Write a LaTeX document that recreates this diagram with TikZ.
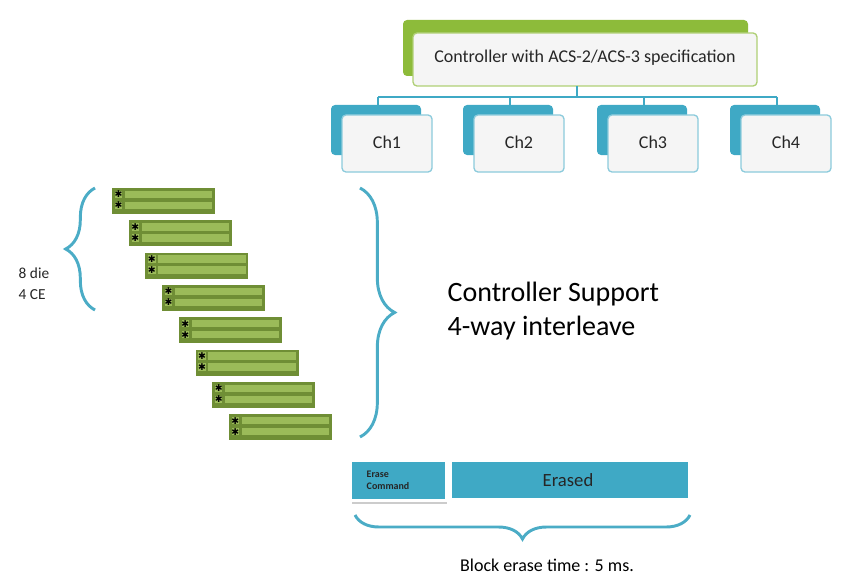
\documentclass[tikz,border=0pt]{standalone}
\usepackage{fontspec}
\setmainfont{Carlito}
\newfontfamily\symfont{DejaVu Sans}
\usetikzlibrary{decorations.pathreplacing,calc}
\definecolor{cblue}{HTML}{3FA9C5}
\definecolor{cgreen}{HTML}{8DBB3A}
\definecolor{dgreen}{HTML}{6F8E35}
\definecolor{lgreen}{HTML}{9BBB59}
\definecolor{brace}{HTML}{4BACC6}
\begin{document}
\begin{tikzpicture}[x=0.75pt,y=-0.75pt,
  back/.style={rounded corners=3pt},
  front/.style={rounded corners=3pt,fill=gray!8,line width=1pt},
  chtxt/.style={font=\fontsize{13.5}{15}\selectfont,text=black!85},
  conn/.style={draw=cblue,line width=2pt},
  br/.style={draw=brace,line width=2.2pt,decorate},
  cell/.style={fill=lgreen,draw=dgreen,line width=1.2pt}]
\useasboundingbox (0,0) rectangle (841,581);
% controller
\fill[back,cgreen] (403,20) rectangle (748,76);
\draw[front,draw=cgreen!70] (413,33) rectangle (757,86);
\node[chtxt] (ctl) at (585,58) {Controller with ACS-2/ACS-3 specification};
\coordinate (cb) at (577,86);
\coordinate (cm) at (577,97);
% channels
\foreach \n/\x in {1/331,2/463,3/597,4/730}{
  \fill[back,cblue] (\x,105) rectangle ++(90,50);
  \draw[front,draw=cblue!60] (\x+11,115) rectangle ++(90,57);
  \node[chtxt] (ch\n) at (\x+56,142) {Ch\n};
  \coordinate (t\n) at (\x+47,105);
}
\draw[conn] (cb) -- (cm);
\draw[conn] (t1|-cm) -- (t4|-cm);
\foreach \n in {1,...,4}{\draw[conn] (t\n|-cm) -- (t\n);}
% die strips
\foreach \i in {0,...,7}{
  \begin{scope}[shift={({112+16.7*\i},{188+32.3*\i})}]
    \fill[dgreen] (0,0) rectangle (103,26);
    \foreach \r in {0,1}{
      \draw[cell] (2,{2+11*\r}) rectangle (11,{11+11*\r});
      \draw[cell] (12,{2+11*\r}) rectangle (101,{11+11*\r});
      \node[inner sep=0pt,font=\symfont\fontsize{7}{7}\selectfont\bfseries] at (6.5,{6.5+11*\r}) {✱};
    }
  \end{scope}
}
% left brace
\coordinate (lb1) at (95,188);
\coordinate (lb2) at (95,310);
\draw[br,decoration={brace,amplitude=22pt}] (lb2) -- (lb1);
\node[anchor=west,font=\fontsize{11.5}{16}\selectfont,align=left,text=black!85] (die) at (14,284) {8 die\\4 CE};
% big brace
\coordinate (bb1) at (360,188);
\coordinate (bb2) at (360,437);
\draw[br,decoration={brace,amplitude=26pt}] (bb1) -- (bb2);
\node[anchor=west,font=\fontsize{21}{25}\selectfont,align=left] (cs) at (443,311) {Controller Support\\4-way interleave};
% erase bar
\draw[white,line width=3pt,fill=cblue] (350,460) rectangle (447,501);
\draw[gray!40,line width=0.8pt] (352,503) -- (447,503);
\node[anchor=west,font=\fontsize{7.5}{9}\selectfont\bfseries,align=left,text=black!85] (ec) at (362,480) {Erase\\Command};
\draw[white,line width=3pt,fill=cblue] (450,460) rectangle (690,500);
\node[font=\fontsize{14}{16}\selectfont,text=black!85] (er) at (568,480) {Erased};
\coordinate (eb1) at (690,515);
\coordinate (eb2) at (355,515);
\draw[br,decoration={brace,amplitude=18pt}] (eb1) -- (eb2);
\node[font=\fontsize{13.5}{15}\selectfont] (bt) at (547,565) {Block erase time : 5 ms.};
\end{tikzpicture}
\end{document}
